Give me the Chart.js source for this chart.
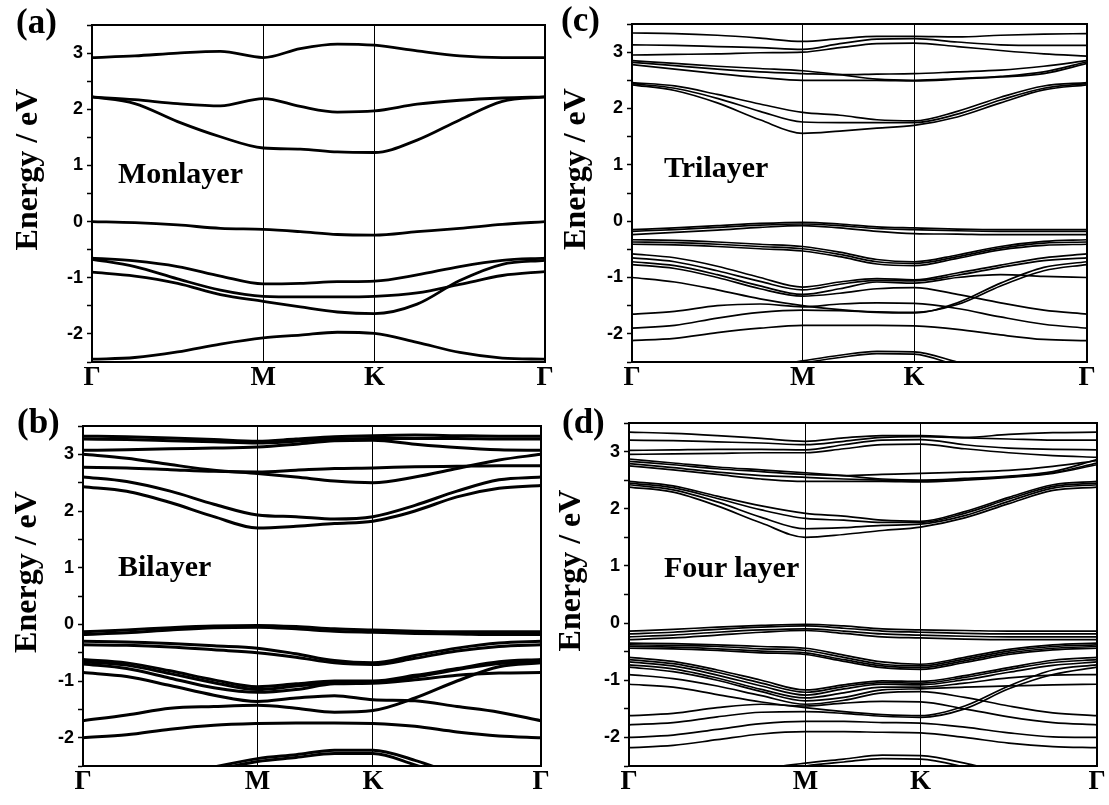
<!DOCTYPE html>
<html><head><meta charset="utf-8">
<script src="https://cdn.jsdelivr.net/npm/chart.js@4.4.1/dist/chart.umd.min.js"></script>
<style>
html,body{margin:0;padding:0;background:#fff;width:1109px;height:805px;overflow:hidden;position:relative;}
canvas{position:absolute;}
.lbl{position:absolute;font-family:'Liberation Serif','Times New Roman',serif;font-weight:bold;color:#000;line-height:1;white-space:nowrap;}
</style></head><body>
<canvas id="ca" width="556" height="400" style="left:0px;top:0px"></canvas>
<canvas id="cc" width="560" height="400" style="left:549px;top:0px"></canvas>
<canvas id="cb" width="556" height="405" style="left:0px;top:400px"></canvas>
<canvas id="cd" width="560" height="405" style="left:549px;top:400px"></canvas>
<div class="lbl" style="left:16px;top:4px;font-size:35px">(a)</div>
<div class="lbl" style="left:561px;top:2px;font-size:35px">(c)</div>
<div class="lbl" style="left:17px;top:404px;font-size:35px">(b)</div>
<div class="lbl" style="left:562px;top:404px;font-size:35px">(d)</div>
<div class="lbl" style="left:118px;top:158px;font-size:30px">Monlayer</div>
<div class="lbl" style="left:664px;top:152px;font-size:30px">Trilayer</div>
<div class="lbl" style="left:118px;top:551px;font-size:30px">Bilayer</div>
<div class="lbl" style="left:664px;top:552px;font-size:30px">Four layer</div>
<script>
// ---- high-symmetry path ----
const kLabels = ['Γ', 'M', 'K', 'Γ'];
const kTicksA = [0, 0.378, 0.6235, 1];
const kTicksB = [0, 0.381, 0.633, 1];
const kTicksC = [0, 0.375, 0.62, 1];
const kTicksD = [0, 0.377, 0.623, 1];
// sample k positions along Γ-M-K-Γ for each panel
const pathA = [0, 0.0945, 0.189, 0.2835, 0.378, 0.4598, 0.5417, 0.6235, 0.7176, 0.8118, 0.9059, 1];
const pathB = [0, 0.0953, 0.1905, 0.2858, 0.381, 0.465, 0.549, 0.633, 0.7248, 0.8165, 0.9083, 1];
const pathC = [0, 0.0938, 0.1875, 0.2813, 0.375, 0.4567, 0.5383, 0.62, 0.715, 0.81, 0.905, 1];
const pathD = [0, 0.0943, 0.1885, 0.2828, 0.377, 0.459, 0.541, 0.623, 0.7173, 0.8115, 0.9058, 1];
// energy axis
const yMin = -2.5, yMax = 3.5, yStep = 0.5;

// ---- (a) Monolayer bands (eV) ----
const bandsA = [
  [2.92, 2.95, 3.0, 3.03, 2.92, 3.08, 3.16, 3.14, 3.04, 2.95, 2.92, 2.92],
  [2.22, 2.17, 2.1, 2.06, 2.19, 2.05, 1.95, 1.97, 2.09, 2.16, 2.2, 2.22],
  [2.22, 2.1, 1.78, 1.51, 1.31, 1.29, 1.24, 1.23, 1.45, 1.81, 2.14, 2.22],
  [0.0, -0.02, -0.06, -0.12, -0.14, -0.18, -0.23, -0.24, -0.18, -0.12, -0.05, 0.0],
  [-0.65, -0.7, -0.8, -0.97, -1.11, -1.1, -1.07, -1.06, -0.95, -0.8, -0.69, -0.65],
  [-0.67, -0.8, -1.02, -1.22, -1.33, -1.34, -1.34, -1.33, -1.27, -1.12, -0.96, -0.89],
  [-0.9, -0.97, -1.1, -1.3, -1.42, -1.52, -1.61, -1.64, -1.47, -1.05, -0.76, -0.69],
  [-2.45, -2.42, -2.32, -2.18, -2.07, -2.02, -1.97, -1.99, -2.15, -2.33, -2.43, -2.45]
];
// ---- (b) Bilayer bands ----
const bandsB = [
  [3.32, 3.31, 3.29, 3.26, 3.23, 3.27, 3.31, 3.33, 3.34, 3.33, 3.32, 3.32],
  [3.27, 3.26, 3.24, 3.22, 3.2, 3.23, 3.27, 3.28, 3.28, 3.28, 3.27, 3.27],
  [3.07, 3.08, 3.1, 3.11, 3.13, 3.18, 3.24, 3.25, 3.18, 3.12, 3.08, 3.07],
  [3.0, 2.93, 2.82, 2.72, 2.66, 2.6, 2.53, 2.5, 2.6, 2.75, 2.9, 3.0],
  [2.77, 2.76, 2.73, 2.7, 2.69, 2.72, 2.75, 2.76, 2.78, 2.79, 2.8, 2.8],
  [2.6, 2.52, 2.35, 2.12, 1.93, 1.9, 1.86, 1.9, 2.1, 2.35, 2.55, 2.6],
  [2.43, 2.35, 2.15, 1.9, 1.7, 1.73, 1.78, 1.82, 2.0, 2.25, 2.4, 2.45],
  [-0.13, -0.1, -0.06, -0.03, -0.02, -0.04, -0.08, -0.1, -0.12, -0.13, -0.13, -0.13],
  [-0.18, -0.15, -0.1, -0.06, -0.05, -0.08, -0.12, -0.14, -0.16, -0.17, -0.18, -0.18],
  [-0.3, -0.31, -0.34, -0.38, -0.42, -0.52, -0.64, -0.68, -0.55, -0.42, -0.33, -0.3],
  [-0.36, -0.37, -0.4, -0.45, -0.5, -0.58, -0.68, -0.71, -0.6, -0.47, -0.39, -0.36],
  [-0.62, -0.68, -0.82, -0.98, -1.1, -1.05, -1.0, -1.0, -0.9, -0.78, -0.66, -0.62],
  [-0.66, -0.72, -0.87, -1.03, -1.15, -1.09, -1.03, -1.02, -0.93, -0.8, -0.69, -0.66],
  [-0.7, -0.78, -0.95, -1.12, -1.2, -1.15, -1.05, -1.04, -0.98, -0.9, -0.86, -0.85],
  [-0.85, -0.92, -1.08, -1.25, -1.36, -1.3, -1.26, -1.33, -1.35, -1.45, -1.55, -1.7],
  [-1.7, -1.6, -1.48, -1.45, -1.43, -1.48, -1.55, -1.52, -1.3, -1.0, -0.75, -0.68],
  [-2.0, -1.95, -1.85, -1.78, -1.75, -1.74, -1.74, -1.75, -1.8, -1.9, -1.97, -2.0],
  [-3.0, -2.9, -2.7, -2.52, -2.37, -2.3, -2.22, -2.22, -2.4, -2.65, -2.85, -3.0],
  [-3.1, -3.0, -2.8, -2.58, -2.42, -2.35, -2.28, -2.28, -2.48, -2.72, -2.95, -3.1]
];
// ---- (c) Trilayer bands ----
const bandsC = [
  [3.34, 3.33, 3.3, 3.25, 3.19, 3.24, 3.28, 3.28, 3.27, 3.3, 3.32, 3.33],
  [3.13, 3.12, 3.1, 3.08, 3.05, 3.15, 3.23, 3.24, 3.18, 3.13, 3.12, 3.12],
  [2.95, 2.96, 2.97, 2.99, 3.0, 3.08, 3.15, 3.16, 3.1, 3.03, 2.97, 2.93],
  [2.85, 2.8, 2.75, 2.71, 2.67, 2.6, 2.52, 2.5, 2.53, 2.57, 2.65, 2.83],
  [2.82, 2.76, 2.7, 2.65, 2.62, 2.6, 2.61, 2.62, 2.65, 2.68, 2.75, 2.85],
  [2.78, 2.7, 2.62, 2.55, 2.5, 2.5, 2.5, 2.49, 2.52, 2.56, 2.62, 2.8],
  [2.46, 2.4, 2.25, 2.08, 1.93, 1.88, 1.8, 1.78, 1.95, 2.2, 2.4, 2.46],
  [2.44, 2.36, 2.18, 1.95, 1.76, 1.75, 1.75, 1.75, 1.9, 2.15, 2.36, 2.44],
  [2.42, 2.32, 2.1, 1.8, 1.56, 1.6, 1.65, 1.7, 1.85, 2.1, 2.33, 2.42],
  [-0.15, -0.12, -0.08, -0.04, -0.02, -0.05, -0.1, -0.12, -0.14, -0.15, -0.15, -0.15],
  [-0.18, -0.15, -0.11, -0.07, -0.05, -0.08, -0.13, -0.15, -0.17, -0.18, -0.18, -0.18],
  [-0.24, -0.2, -0.16, -0.11, -0.08, -0.12, -0.18, -0.22, -0.23, -0.24, -0.24, -0.24],
  [-0.33, -0.34, -0.37, -0.41, -0.45, -0.55, -0.68, -0.72, -0.6, -0.45, -0.36, -0.33],
  [-0.37, -0.38, -0.41, -0.45, -0.49, -0.59, -0.72, -0.75, -0.63, -0.48, -0.39, -0.37],
  [-0.41, -0.42, -0.45, -0.49, -0.53, -0.63, -0.76, -0.79, -0.66, -0.51, -0.43, -0.41],
  [-0.58, -0.65, -0.8, -1.0, -1.17, -1.08, -1.02, -1.04, -0.92, -0.78, -0.65, -0.58],
  [-0.65, -0.72, -0.88, -1.07, -1.22, -1.12, -1.05, -1.06, -0.96, -0.82, -0.7, -0.65],
  [-0.72, -0.79, -0.95, -1.15, -1.3, -1.2, -1.08, -1.1, -1.0, -0.95, -0.98, -1.0],
  [-0.77, -0.84, -1.0, -1.2, -1.33, -1.28, -1.2, -1.18, -1.3, -1.45, -1.58, -1.65],
  [-1.0, -1.08, -1.22, -1.38, -1.5, -1.57, -1.62, -1.63, -1.45, -1.1, -0.82, -0.72],
  [-1.65, -1.6, -1.5, -1.47, -1.52, -1.47, -1.45, -1.46, -1.55, -1.7, -1.83, -1.9],
  [-1.9, -1.85, -1.72, -1.62, -1.58, -1.59, -1.61, -1.62, -1.48, -1.15, -0.88, -0.77],
  [-2.12, -2.08, -1.98, -1.9, -1.85, -1.85, -1.85, -1.86, -1.92, -2.02, -2.1, -2.12],
  [-3.0, -2.9, -2.75, -2.6, -2.48, -2.38, -2.31, -2.32, -2.5, -2.7, -2.85, -2.9],
  [-3.1, -3.0, -2.85, -2.68, -2.52, -2.42, -2.35, -2.36, -2.56, -2.76, -2.92, -3.0]
];
// ---- (d) Four-layer bands ----
const bandsD = [
  [3.34, 3.32, 3.28, 3.23, 3.18, 3.24, 3.28, 3.28, 3.25, 3.3, 3.33, 3.34],
  [3.2, 3.19, 3.17, 3.15, 3.12, 3.18, 3.25, 3.26, 3.24, 3.22, 3.2, 3.2],
  [3.02, 3.03, 3.04, 3.04, 3.03, 3.12, 3.2, 3.21, 3.12, 3.06, 3.04, 3.03],
  [2.95, 2.96, 2.97, 2.98, 2.98, 3.05, 3.12, 3.13, 3.05, 2.98, 2.93, 2.9],
  [2.87, 2.8, 2.73, 2.68, 2.63, 2.58, 2.52, 2.5, 2.53, 2.57, 2.65, 2.86],
  [2.83, 2.77, 2.7, 2.65, 2.6, 2.58, 2.6, 2.62, 2.64, 2.67, 2.74, 2.84],
  [2.79, 2.72, 2.64, 2.58, 2.55, 2.52, 2.5, 2.49, 2.52, 2.56, 2.63, 2.8],
  [2.75, 2.68, 2.6, 2.52, 2.48, 2.48, 2.48, 2.47, 2.5, 2.55, 2.62, 2.77],
  [2.48, 2.4, 2.22, 2.05, 1.92, 1.87, 1.8, 1.78, 1.95, 2.2, 2.42, 2.48],
  [2.45, 2.37, 2.18, 1.98, 1.83, 1.8, 1.76, 1.76, 1.92, 2.17, 2.39, 2.45],
  [2.42, 2.33, 2.12, 1.85, 1.65, 1.67, 1.71, 1.73, 1.88, 2.13, 2.36, 2.42],
  [2.38, 2.29, 2.05, 1.75, 1.5, 1.55, 1.62, 1.68, 1.84, 2.09, 2.32, 2.38],
  [-0.14, -0.11, -0.07, -0.04, -0.02, -0.05, -0.1, -0.12, -0.13, -0.14, -0.14, -0.14],
  [-0.19, -0.16, -0.11, -0.07, -0.05, -0.09, -0.14, -0.16, -0.18, -0.19, -0.19, -0.19],
  [-0.24, -0.21, -0.16, -0.12, -0.1, -0.14, -0.19, -0.21, -0.23, -0.24, -0.24, -0.24],
  [-0.29, -0.26, -0.21, -0.16, -0.13, -0.18, -0.24, -0.26, -0.28, -0.29, -0.29, -0.29],
  [-0.35, -0.36, -0.38, -0.41, -0.44, -0.56, -0.68, -0.72, -0.6, -0.46, -0.38, -0.35],
  [-0.38, -0.39, -0.41, -0.45, -0.48, -0.6, -0.72, -0.75, -0.63, -0.49, -0.41, -0.38],
  [-0.41, -0.42, -0.45, -0.49, -0.52, -0.64, -0.75, -0.78, -0.66, -0.52, -0.44, -0.41],
  [-0.44, -0.45, -0.48, -0.52, -0.55, -0.67, -0.78, -0.81, -0.69, -0.55, -0.47, -0.44],
  [-0.6, -0.67, -0.82, -1.0, -1.17, -1.08, -1.01, -1.02, -0.92, -0.78, -0.65, -0.6],
  [-0.64, -0.71, -0.86, -1.05, -1.21, -1.11, -1.04, -1.05, -0.95, -0.81, -0.69, -0.64],
  [-0.68, -0.75, -0.91, -1.1, -1.26, -1.15, -1.07, -1.08, -0.99, -0.86, -0.74, -0.68],
  [-0.73, -0.8, -0.96, -1.16, -1.31, -1.22, -1.12, -1.12, -1.05, -0.96, -0.91, -0.9],
  [-0.77, -0.85, -1.0, -1.2, -1.36, -1.3, -1.17, -1.15, -1.12, -1.1, -1.08, -1.07],
  [-0.9, -0.97, -1.1, -1.27, -1.42, -1.35, -1.22, -1.2, -1.3, -1.45, -1.57, -1.62],
  [-1.07, -1.12, -1.25, -1.38, -1.48, -1.55, -1.6, -1.62, -1.45, -1.1, -0.82, -0.73],
  [-1.62, -1.58, -1.48, -1.42, -1.45, -1.4, -1.37, -1.38, -1.5, -1.64, -1.74, -1.78],
  [-1.78, -1.74, -1.64, -1.56, -1.55, -1.58, -1.63, -1.65, -1.5, -1.15, -0.9, -0.77],
  [-2.0, -1.96, -1.86, -1.76, -1.72, -1.72, -1.74, -1.75, -1.82, -1.92, -1.99, -2.0],
  [-2.18, -2.14, -2.04, -1.94, -1.9, -1.9, -1.91, -1.92, -2.0, -2.1, -2.16, -2.18],
  [-3.0, -2.9, -2.7, -2.55, -2.45, -2.38, -2.31, -2.32, -2.45, -2.65, -2.85, -3.0],
  [-3.1, -3.0, -2.8, -2.62, -2.5, -2.43, -2.37, -2.38, -2.52, -2.72, -2.92, -3.1]
];

const framePlugin = {
  id: 'frame',
  afterDatasetsDraw(chart) {
    const a = chart.chartArea, ctx = chart.ctx;
    ctx.save();
    ctx.strokeStyle = '#000';
    ctx.lineWidth = 2;
    ctx.strokeRect(a.left, a.top, a.right - a.left, a.bottom - a.top);
    ctx.restore();
  }
};

function makePanel(id, path, kTicks, bands, lw, box) {
  const titleSize = 32;
  const datasets = bands.map(b => ({
    data: b.map((e, i) => ({x: path[i], y: e})),
    borderColor: '#000',
    borderWidth: lw,
    pointRadius: 0,
    fill: false,
    cubicInterpolationMode: 'monotone'
  }));
  new Chart(document.getElementById(id), {
    type: 'line',
    data: {datasets},
    plugins: [framePlugin],
    options: {
      responsive: false,
      animation: false,
      events: [],
      layout: {padding: {left: 0, top: box.t - box.ct, right: box.cl + box.cw - box.r, bottom: 0}},
      plugins: {legend: {display: false}, tooltip: {enabled: false}},
      scales: {
        x: {
          type: 'linear', min: 0, max: 1,
          afterBuildTicks: s => { s.ticks = kTicks.map(v => ({value: v})); },
          afterFit: s => { s.height = box.ct + box.ch - box.b; },
          ticks: {
            autoSkip: false, maxRotation: 0, padding: 0, color: '#000',
            font: {family: 'Liberation Serif', weight: 'bold', size: 27},
            callback: (v, i) => kLabels[i]
          },
          grid: {color: '#000', lineWidth: 1, drawTicks: false},
          border: {display: true, color: '#000', width: 2}
        },
        y: {
          type: 'linear', min: yMin, max: yMax,
          afterFit: s => { s.width = box.l - box.cl; },
          ticks: {
            stepSize: yStep, autoSkip: false, padding: 4, color: '#000',
            font: {family: 'Liberation Sans', weight: 'bold', size: 18},
            callback: v => Number.isInteger(v) ? String(v) : ''
          },
          grid: {drawOnChartArea: false, drawTicks: true, tickLength: 5, tickColor: '#000', tickWidth: 1.5},
          border: {display: true, color: '#000', width: 2},
          title: {
            display: true, text: '      Energy / eV', color: '#000',
            font: {family: 'Liberation Serif', weight: 'bold', size: titleSize},
            padding: {top: box.titleX - box.cl - titleSize * 0.6, bottom: 0}
          }
        }
      }
    }
  });
}

makePanel('ca', pathA, kTicksA, bandsA, 2.8, {cl: 0, ct: 0, cw: 556, ch: 400, l: 92, t: 25, r: 545, b: 362, titleX: 28.5});
makePanel('cc', pathC, kTicksC, bandsC, 1.7, {cl: 549, ct: 0, cw: 560, ch: 400, l: 632, t: 24, r: 1087, b: 362, titleX: 577});
makePanel('cb', pathB, kTicksB, bandsB, 3.0, {cl: 0, ct: 400, cw: 556, ch: 405, l: 83, t: 426, r: 541, b: 766, titleX: 28});
makePanel('cd', pathD, kTicksD, bandsD, 1.7, {cl: 549, ct: 400, cw: 560, ch: 405, l: 629, t: 423, r: 1097, b: 766, titleX: 572});
</script>
</body></html>
